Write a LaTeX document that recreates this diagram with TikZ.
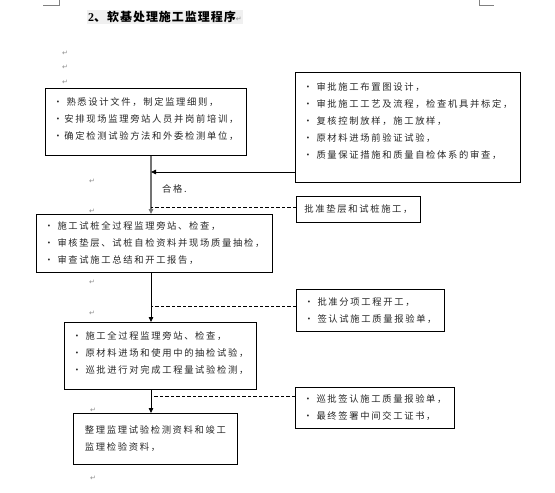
\documentclass[tikz,border=0pt]{standalone}
\usepackage{fontspec}
\setmainfont{Liberation Serif}
\newfontfamily\cjk{Noto Sans CJK SC}[LetterSpace=18]
\newfontfamily\cjktitle{Noto Sans CJK SC}[LetterSpace=8]
\newfontfamily\dejavu{DejaVu Sans}
\usetikzlibrary{arrows.meta}
\tikzset{
  box/.style={draw=black, line width=0.9pt, anchor=north west, align=left,
    inner xsep=8pt, inner ysep=0pt, font=\cjk\fontsize{9.3}{17}\selectfont,
    text=black!85},
  arr/.style={line width=0.8pt, -{Triangle[length=5pt,width=4.5pt]}},
  dsh/.style={line width=0.8pt, dash pattern=on 3.5pt off 2pt},
  pmark/.style={font=\dejavu\fontsize{7}{7}\selectfont, text=black!45, inner sep=0pt},
  corner/.style={line width=0.5pt, draw=black!50}
}
\begin{document}
\begin{tikzpicture}[x=1pt,y=-1pt]
\useasboundingbox (0,0) rectangle (555,493);
% corner marks
\draw[corner] (43,5) -- (59,5) -- (59,0);
\draw[corner] (479,0) -- (479,5) -- (494,5);
% title
\node[anchor=west, inner sep=1pt, fill=black!6, font=\bfseries\fontsize{12}{12}\selectfont] (title) at (87,17)
  {2\cjktitle\bfseries 、软基处理施工监理程序\dejavu\mdseries\fontsize{7}{7}\selectfont\textcolor{black!45}{↵}};
% paragraph marks
\node[pmark] (p1) at (65,53) {↵};
\node[pmark] (p2) at (65,67) {↵};
\node[pmark] (p3) at (65,82) {↵};
\node[pmark] (p4) at (92,181) {↵};
\node[pmark] (p5) at (92,211) {↵};
\node[pmark] (p6) at (92,282) {↵};
\node[pmark] (p7) at (92,313) {↵};
\node[pmark] (p8) at (93,410) {↵};
\node[pmark] (p9) at (93,478) {↵};
% boxes
\node[box, minimum width=193pt, minimum height=67pt] (b1) at (45,88)
  {• 熟悉设计文件，制定监理细则，\\•安排现场监理旁站人员并岗前培训，\\•确定检测试验方法和外委检测单位，\\[-10pt]\mbox{}};
\node[box, minimum width=224pt, minimum height=110pt] (b2) at (295,72)
  {• 审批施工布置图设计，\\• 审批施工工艺及流程，检查机具并标定，\\• 复核控制放样，施工放样，\\• 原材料进场前验证试验，\\• 质量保证措施和质量自检体系的审查，\\[-4pt]\mbox{}};
\node[box, minimum width=231pt, minimum height=58pt] (b3) at (36,214)
  {• 施工试桩全过程监理旁站、检查，\\• 审核垫层、试桩自检资料并现场质量抽检，\\• 审查试施工总结和开工报告，};
\node[box, minimum width=124pt, minimum height=26pt] (b4) at (296,196)
  {批准垫层和试桩施工，};
\node[box, minimum width=183pt, minimum height=67pt] (b5) at (64,322)
  {• 施工全过程监理旁站、检查，\\• 原材料进场和使用中的抽检试验，\\• 巡批进行对完成工程量试验检测，\\[-10pt]\mbox{}};
\node[box, minimum width=143pt, minimum height=42pt] (b6) at (296,289)
  {• 批准分项工程开工，\\• 签认试施工质量报验单，};
\node[box, minimum width=164pt, minimum height=51pt] (b7) at (73,413)
  {整理监理试验检测资料和竣工\\监理检验资料，};
\node[box, minimum width=154pt, minimum height=41pt] (b8) at (295,387)
  {• 巡批签认施工质量报验单，\\• 最终签署中间交工证书，};
% label
\node[anchor=west, inner sep=0pt, font=\cjk\fontsize{9.3}{12}\selectfont, text=black!85] (ok) at (162,189) {合格.};
% junction coordinates
\coordinate (t) at (151,0);
\coordinate (j1) at (151,172);
\coordinate (j2) at (151,207);
\coordinate (j3) at (151,306);
\coordinate (j4) at (151,396);
% trunk
\draw[arr, draw=black!55, line width=1.2pt] (b1.south -| t) -- (b3.north -| t);
\draw[arr] (b3.south -| t) -- (b5.north -| t);
\draw[arr] (b5.south -| t) -- (b7.north -| t);
% side connectors
\draw[arr] (b2.west |- j1) -- (j1);
\draw[dsh] (b4.west |- j2) -- (j2);
\draw[dsh] (b6.west |- j3) -- (j3);
\draw[dsh] (b8.west |- j4) -- (j4);
\end{tikzpicture}
\end{document}
